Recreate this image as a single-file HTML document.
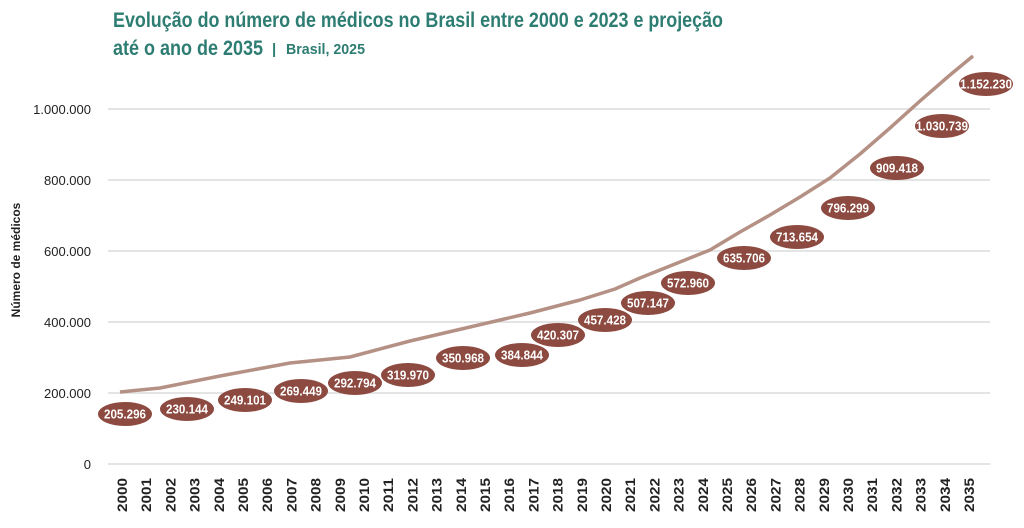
<!DOCTYPE html>
<html><head><meta charset="utf-8"><style>
body{margin:0;background:#fff;width:1024px;height:523px;overflow:hidden}
svg{font-family:"Liberation Sans Narrow","Liberation Sans",sans-serif}
</style></head><body>
<svg width="1024" height="523" viewBox="0 0 1024 523">
<text x="113" y="27" fill="#2e7d73" font-size="21" font-weight="bold" textLength="610" lengthAdjust="spacingAndGlyphs">Evolução do número de médicos no Brasil entre 2000 e 2023 e projeção</text>
<text x="113" y="55" fill="#2e7d73" font-size="21" font-weight="bold" textLength="150" lengthAdjust="spacingAndGlyphs">até o ano de 2035</text>
<text x="272" y="54" fill="#2e7d73" font-size="15" font-weight="bold">|</text>
<text x="286" y="54" fill="#2e7d73" font-size="15" font-weight="bold" textLength="79" lengthAdjust="spacingAndGlyphs">Brasil, 2025</text>
<g stroke="#dcdcdc" stroke-width="1.5">
<line x1="108" x2="990" y1="109" y2="109"/><line x1="108" x2="990" y1="180" y2="180"/><line x1="108" x2="990" y1="251" y2="251"/><line x1="108" x2="990" y1="322" y2="322"/><line x1="108" x2="990" y1="393" y2="393"/><line x1="108" x2="990" y1="464" y2="464"/>
</g>
<g font-size="13" fill="#222" text-anchor="end">
<text x="91" y="114">1.000.000</text><text x="91" y="185">800.000</text><text x="91" y="256">600.000</text><text x="91" y="327">400.000</text><text x="91" y="398">200.000</text><text x="91" y="469">0</text>
</g>
<text transform="translate(20,260) rotate(-90)" text-anchor="middle" font-size="12" font-weight="bold" fill="#222">Número de médicos</text>
<polyline fill="none" stroke="#b49184" stroke-width="3.5" stroke-linejoin="round" points="120,392 160,388 220,376 290,363 350,357 410,341 470,327 530,313 580,300 615,289 640,278 680,262 710,250 740,232 770,215 800,197 830,178 860,154 890,128 920,101 950,75 973,56"/>
<g id="yrs" font-size="14" font-weight="bold" fill="#222"></g>
<g id="lbl"></g>
</svg>
<script>
var ns="http://www.w3.org/2000/svg",g=document.getElementById("yrs");
for(var i=0;i<=35;i++){var t=document.createElementNS(ns,"text");var x=122+i*24.2;
t.setAttribute("transform","translate("+(x+5)+",512) rotate(-90)");t.setAttribute("textLength","34");t.setAttribute("lengthAdjust","spacingAndGlyphs");t.textContent=2000+i;g.appendChild(t);}
var L=[["205.296",125,414],["230.144",187,409],["249.101",245,400],["269.449",301,391],["292.794",355,383],["319.970",408,375],["350.968",463,358],["384.844",522,355],["420.307",558,335],["457.428",605,320],["507.147",648,303],["572.960",688,283],["635.706",744,258],["713.654",797,237],["796.299",848,208],["909.418",897,168],["1.030.739",942,126],["1.152.230",986,84]];
var h=document.getElementById("lbl");
L.forEach(function(a){var e=document.createElementNS(ns,"ellipse");e.setAttribute("cx",a[1]);e.setAttribute("cy",a[2]);e.setAttribute("rx",27);e.setAttribute("ry",12);e.setAttribute("fill","#8c4a40");h.appendChild(e);
var t=document.createElementNS(ns,"text");t.setAttribute("x",a[1]);t.setAttribute("y",a[2]+4.5);t.setAttribute("text-anchor","middle");t.setAttribute("font-size","12.5");t.setAttribute("font-weight","bold");t.setAttribute("fill","#fff");
t.setAttribute("textLength",a[0].length>7?"52":"42");t.setAttribute("lengthAdjust","spacingAndGlyphs");t.textContent=a[0];h.appendChild(t);});
</script>
</body></html>
